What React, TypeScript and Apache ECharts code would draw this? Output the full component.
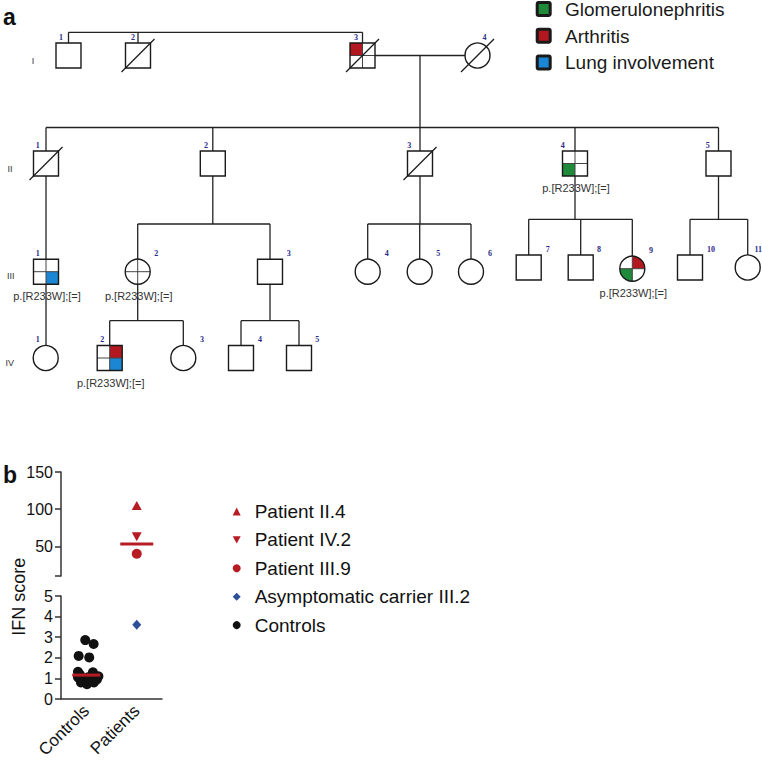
import React, { useEffect, useRef } from 'react';
import * as echarts from 'echarts';

const FONT = '"Liberation Sans", Arial, Helvetica, sans-serif';
const SERIF = '"Liberation Serif", "Times New Roman", serif';

// ---------- Panel a: pedigree data ----------
const diseaseNames = ['Glomerulonephritis', 'Arthritis', 'Lung involvement'];
const diseaseColors = ['#1f8a3a', '#b3171f', '#1b86d3'];
const generationLabels = ['I', 'II', 'III', 'IV'];
const genotypeText = 'p.[R233W];[=]';

type Ind = {
  id: string; gen: number; num: number; sex: 'm' | 'f';
  deceased?: boolean; quartered?: boolean;
  quadrants?: Record<string, number>; genotype?: boolean;
};

const individuals: Ind[] = [
  { id: 'I-1', gen: 0, num: 1, sex: 'm' },
  { id: 'I-2', gen: 0, num: 2, sex: 'm', deceased: true },
  { id: 'I-3', gen: 0, num: 3, sex: 'm', deceased: true, quartered: true, quadrants: { tl: 1 } },
  { id: 'I-4', gen: 0, num: 4, sex: 'f', deceased: true },
  { id: 'II-1', gen: 1, num: 1, sex: 'm', deceased: true },
  { id: 'II-2', gen: 1, num: 2, sex: 'm' },
  { id: 'II-3', gen: 1, num: 3, sex: 'm', deceased: true },
  { id: 'II-4', gen: 1, num: 4, sex: 'm', quartered: true, quadrants: { bl: 0 }, genotype: true },
  { id: 'II-5', gen: 1, num: 5, sex: 'm' },
  { id: 'III-1', gen: 2, num: 1, sex: 'm', quartered: true, quadrants: { br: 2 }, genotype: true },
  { id: 'III-2', gen: 2, num: 2, sex: 'f', quartered: true, genotype: true },
  { id: 'III-3', gen: 2, num: 3, sex: 'm' },
  { id: 'III-4', gen: 2, num: 4, sex: 'f' },
  { id: 'III-5', gen: 2, num: 5, sex: 'f' },
  { id: 'III-6', gen: 2, num: 6, sex: 'f' },
  { id: 'III-7', gen: 2, num: 7, sex: 'm' },
  { id: 'III-8', gen: 2, num: 8, sex: 'm' },
  { id: 'III-9', gen: 2, num: 9, sex: 'f', quartered: true, quadrants: { tr: 1, bl: 0 }, genotype: true },
  { id: 'III-10', gen: 2, num: 10, sex: 'm' },
  { id: 'III-11', gen: 2, num: 11, sex: 'f' },
  { id: 'IV-1', gen: 3, num: 1, sex: 'f' },
  { id: 'IV-2', gen: 3, num: 2, sex: 'm', quartered: true, quadrants: { tr: 1, br: 2 }, genotype: true },
  { id: 'IV-3', gen: 3, num: 3, sex: 'f' },
  { id: 'IV-4', gen: 3, num: 4, sex: 'm' },
  { id: 'IV-5', gen: 3, num: 5, sex: 'm' },
];

const families = [
  { parents: [] as string[], children: ['I-1', 'I-2', 'I-3'] },
  { parents: ['I-3', 'I-4'], children: ['II-1', 'II-2', 'II-3', 'II-4', 'II-5'] },
  { parents: ['II-1'], children: ['III-1'] },
  { parents: ['II-2'], children: ['III-2', 'III-3'] },
  { parents: ['II-3'], children: ['III-4', 'III-5', 'III-6'] },
  { parents: ['II-4'], children: ['III-7', 'III-8', 'III-9'] },
  { parents: ['II-5'], children: ['III-10', 'III-11'] },
  { parents: ['III-1'], children: ['IV-1'] },
  { parents: ['III-2'], children: ['IV-2', 'IV-3'] },
  { parents: ['III-3'], children: ['IV-4', 'IV-5'] },
];

// ---------- Panel b: IFN score data ----------
const categories = ['Controls', 'Patients'];
const patientSeriesNames = ['Patient II.4', 'Patient IV.2', 'Patient III.9'];
const patientScores = [105, 63, 40];
const carrierName = 'Asymptomatic carrier III.2';
const carrierScore = 3.6;
const controlsName = 'Controls';
const controlScores = [2.86, 2.67, 2.09, 2.02, 1.32, 1.30, 1.10, 1.05, 0.92, 0.92, 0.72, 0.80, 0.80, 1.05, 0.95, 1.18];
const controlSpread = [0.48, 0.646, 0.35, 0.559, 0.336, 0.632, 0.741, 0.336, 0.435, 0.613, 0.514, 0.395, 0.652, 0.534, 0.711, 0.376];
const controlMedian = 1.16;
const patientMedian = 53;

// ---------- layout (positions of pedigree symbols) ----------
const layoutX: Record<string, [number, number]> = {
  'I-1': [68.5, -7.5], 'I-2': [138, -5], 'I-3': [362.5, -6.5], 'I-4': [477.5, 7],
  'II-1': [46, -8.3], 'II-2': [212.8, -6.8], 'II-3': [420, -10.7], 'II-4': [575, -12.3], 'II-5': [718.5, -10.8],
  'III-1': [46, -8.3], 'III-2': [137.7, 18.6], 'III-3': [270, 18.7], 'III-4': [367.7, 19], 'III-5': [419.7, 18.6],
  'III-6': [471, 19], 'III-7': [528.7, 19], 'III-8': [580.7, 18.3], 'III-9': [632.3, 18.7], 'III-10': [690, 21],
  'III-11': [747.7, 10.6],
  'IV-1': [45.7, -8], 'IV-2': [109.7, -7.4], 'IV-3': [183.3, 18.7], 'IV-4': [241, 19], 'IV-5': [299, 18.3],
};
const genY = [55.5, 163.5, 271.7, 358];
const yShift: Record<string, number> = { 'III-7': -4.2, 'III-8': -4.2, 'III-9': -3, 'III-10': -4.2, 'III-11': -4.2 };
const genLabelPos: [number, number][] = [[31.7, 60.7], [7.5, 168.5], [7, 276], [5.5, 363.3]];
const sibshipY: (number | null)[] = [32.3, 127.5, null, 224, 224, 219.3, 219.3, null, 320.7, 320.7];
const coupleDescentX = 420;

function buildPedigree(): any[] {
  const els: any[] = [];
  const H = 12.5;
  const byId: Record<string, Ind> = {};
  individuals.forEach((d) => (byId[d.id] = d));
  const pos = (id: string) => ({ x: layoutX[id][0], y: genY[byId[id].gen] + (yShift[id] || 0) });
  const line = (x1: number, y1: number, x2: number, y2: number, stroke = '#222', lw = 1.3) =>
    els.push({ type: 'line', silent: true, shape: { x1, y1, x2, y2 }, style: { stroke, lineWidth: lw } });

  families.forEach((fam, i) => {
    const kids = fam.children.map(pos);
    const sy = sibshipY[i];
    if (fam.parents.length === 2) {
      const a = pos(fam.parents[0]);
      const b = pos(fam.parents[1]);
      line(a.x + H, a.y, b.x - H, b.y);
      line(coupleDescentX, a.y, coupleDescentX, sy as number);
    } else if (fam.parents.length === 1) {
      const p = pos(fam.parents[0]);
      line(p.x, p.y + H, p.x, sy != null ? sy : kids[0].y - H);
    }
    if (sy != null) {
      const xs = kids.map((k) => k.x);
      line(Math.min(...xs), sy, Math.max(...xs), sy);
      kids.forEach((k) => line(k.x, sy, k.x, k.y - H));
    }
  });

  const PI = Math.PI;
  const quadAngles: Record<string, [number, number]> = {
    tr: [-PI / 2, 0], br: [0, PI / 2], bl: [PI / 2, PI], tl: [PI, 1.5 * PI],
  };

  individuals.forEach((ind) => {
    const { x, y } = pos(ind.id);
    const isM = ind.sex === 'm';
    if (isM) els.push({ type: 'rect', silent: true, shape: { x: x - H, y: y - H, width: 2 * H, height: 2 * H }, style: { fill: '#fff' } });
    else els.push({ type: 'circle', silent: true, shape: { cx: x, cy: y, r: H }, style: { fill: '#fff' } });
    Object.entries(ind.quadrants || {}).forEach(([q, d]) => {
      const color = diseaseColors[d];
      if (isM) {
        const qx = q[1] === 'l' ? x - H : x;
        const qy = q[0] === 't' ? y - H : y;
        els.push({ type: 'rect', silent: true, shape: { x: qx, y: qy, width: H, height: H }, style: { fill: color } });
      } else {
        const a = quadAngles[q];
        els.push({ type: 'sector', silent: true, shape: { cx: x, cy: y, r: H, r0: 0, startAngle: a[0], endAngle: a[1], clockwise: true }, style: { fill: color } });
      }
    });
    if (ind.quartered) {
      line(x - H, y, x + H, y, '#444', 1);
      line(x, y - H, x, y + H, '#444', 1);
    }
    if (isM) els.push({ type: 'rect', silent: true, shape: { x: x - H, y: y - H, width: 2 * H, height: 2 * H }, style: { fill: 'none', stroke: '#1a1a1a', lineWidth: 1.4 } });
    else els.push({ type: 'circle', silent: true, shape: { cx: x, cy: y, r: H }, style: { fill: 'none', stroke: '#1a1a1a', lineWidth: 1.4 } });
    if (ind.deceased) line(x - 16.5, y + 16.5, x + 16.5, y - 16.5, '#1a1a1a', 1.3);
    els.push({
      type: 'text', silent: true,
      style: {
        text: String(ind.num), x: x + layoutX[ind.id][1], y: y - H - 6,
        fontSize: 8, fontWeight: 'bold', fontFamily: SERIF, fill: '#2a2a8a',
        align: 'center', verticalAlign: 'middle', textAlign: 'center', textVerticalAlign: 'middle',
      },
    });
    if (ind.genotype) {
      els.push({
        type: 'text', silent: true,
        style: {
          text: genotypeText, x: x + 1, y: y + H + 12,
          fontSize: 11, fontFamily: FONT, fill: '#333',
          align: 'center', verticalAlign: 'middle', textAlign: 'center', textVerticalAlign: 'middle',
        },
      });
    }
  });

  generationLabels.forEach((g, i) => {
    els.push({
      type: 'text', silent: true,
      style: {
        text: g, x: genLabelPos[i][0], y: genLabelPos[i][1], fontSize: 9, fontFamily: FONT, fill: '#333',
        align: 'left', verticalAlign: 'middle', textAlign: 'left', textVerticalAlign: 'middle',
      },
    });
  });

  // disease legend
  diseaseNames.forEach((name, i) => {
    const cy = 9 + i * 26.7;
    els.push({ type: 'rect', silent: true, shape: { x: 537.2, y: cy - 6.5, width: 13, height: 13, r: 1.5 }, style: { fill: diseaseColors[i], stroke: '#1a1a1a', lineWidth: 3 } });
    els.push({
      type: 'text', silent: true,
      style: {
        text: name, x: 565, y: cy + 0.5, fontSize: 19, fontFamily: FONT, fill: '#1a1a1a',
        align: 'left', verticalAlign: 'middle', textAlign: 'left', textVerticalAlign: 'middle',
      },
    });
  });

  return els;
}

function panelTexts(): any[] {
  const t = (text: string, x: number, y: number, extra: any = {}) => ({
    type: 'text', silent: true,
    style: { text, x, y, fontFamily: FONT, fill: '#111', align: 'left', textAlign: 'left', ...extra },
  });
  return [
    t('a', 3, 28, { fontSize: 23, fontWeight: 'bold', verticalAlign: 'bottom', textVerticalAlign: 'bottom' }),
    t('b', 3, 486, { fontSize: 23, fontWeight: 'bold', verticalAlign: 'bottom', textVerticalAlign: 'bottom' }),
    {
      type: 'text', silent: true, x: 18.5, y: 596.7, rotation: Math.PI / 2,
      style: {
        text: 'IFN score', x: 0, y: 0, fontSize: 18, fontFamily: FONT, fill: '#111',
        align: 'center', verticalAlign: 'middle', textAlign: 'center', textVerticalAlign: 'middle',
      },
    },
  ];
}

const RED = '#b71c24';
const AXIS = { lineStyle: { color: '#333', width: 1.5 } };

export default function App() {
  const ref = useRef<HTMLDivElement>(null);
  useEffect(() => {
    if (!ref.current) return;
    const chart = echarts.init(ref.current, undefined, { renderer: 'svg' });
    const patientSymbols = ['triangle', 'path://M0,0L10,0L5,9Z', 'circle'];
    const patientSizes: any[] = [[10, 9], [10, 9], 10];
    const option: any = {
      animation: false,
      backgroundColor: '#fff',
      textStyle: { fontFamily: FONT },
      graphic: { elements: [...buildPedigree(), ...panelTexts()] },
      grid: [
        { left: 61, top: 472, width: 101, height: 104 },
        { left: 61, top: 596, width: 101, height: 103 },
      ],
      legend: {
        orient: 'vertical', left: 227.7, top: 497, itemWidth: 8, itemHeight: 8, itemGap: 9.4,
        selectedMode: false,
        textStyle: { fontSize: 19, fontFamily: FONT, color: '#111', padding: [0, 0, 0, 9] },
        data: [...patientSeriesNames, carrierName, controlsName],
      },
      xAxis: [
        { gridIndex: 0, type: 'value', min: 0, max: 2, show: false },
        { gridIndex: 1, type: 'value', min: 0, max: 2, show: false },
        {
          gridIndex: 1, type: 'category', data: categories, position: 'bottom',
          axisLine: AXIS,
          axisTick: { alignWithLabel: true, length: 6, lineStyle: { color: '#333', width: 1.5 } },
          axisLabel: { rotate: 45, fontSize: 17, color: '#111', margin: 9, fontFamily: FONT },
        },
      ],
      yAxis: [
        {
          gridIndex: 0, type: 'value', min: 10, max: 150,
          axisLine: { show: true, ...AXIS },
          axisTick: { show: true, length: 6, customValues: [10, 50, 100, 150], lineStyle: { color: '#333', width: 1.5 } },
          axisLabel: { customValues: [50, 100, 150], fontSize: 16, color: '#111', margin: 8, fontFamily: FONT },
          splitLine: { show: false },
        },
        {
          gridIndex: 1, type: 'value', min: 0, max: 5, interval: 1,
          axisLine: { show: true, ...AXIS },
          axisTick: { show: true, length: 6, lineStyle: { color: '#333', width: 1.5 } },
          axisLabel: { fontSize: 16, color: '#111', margin: 8, fontFamily: FONT },
          splitLine: { show: false },
        },
      ],
      series: [
        {
          name: controlsName, type: 'scatter', xAxisIndex: 1, yAxisIndex: 1,
          symbol: 'circle', symbolSize: 10, itemStyle: { color: '#111', opacity: 1 },
          data: controlScores.map((v, i) => [controlSpread[i], v]),
        },
        {
          name: 'controls-median', type: 'scatter', xAxisIndex: 1, yAxisIndex: 1,
          symbol: 'rect', symbolSize: [28, 3], itemStyle: { color: RED, opacity: 1 }, z: 5,
          data: [[0.5, controlMedian]],
        },
        ...patientSeriesNames.map((name, i) => ({
          name, type: 'scatter', xAxisIndex: 0, yAxisIndex: 0,
          symbol: patientSymbols[i], symbolSize: patientSizes[i], itemStyle: { color: RED, opacity: 1 },
          data: [[1.5, patientScores[i]]],
        })),
        {
          name: 'patients-median', type: 'scatter', xAxisIndex: 0, yAxisIndex: 0,
          symbol: 'rect', symbolSize: [33, 3], itemStyle: { color: RED, opacity: 1 },
          data: [[1.5, patientMedian]],
        },
        {
          name: carrierName, type: 'scatter', xAxisIndex: 1, yAxisIndex: 1,
          symbol: 'diamond', symbolSize: [9, 10], itemStyle: { color: '#2d4f97', opacity: 1 },
          data: [[1.5, carrierScore]],
        },
      ],
    };
    chart.setOption(option);
    return () => chart.dispose();
  }, []);
  return (
    <div
      ref={ref}
      style={{ position: 'fixed', left: 0, top: 0, width: 762, height: 765, background: '#fff' }}
    />
  );
}
